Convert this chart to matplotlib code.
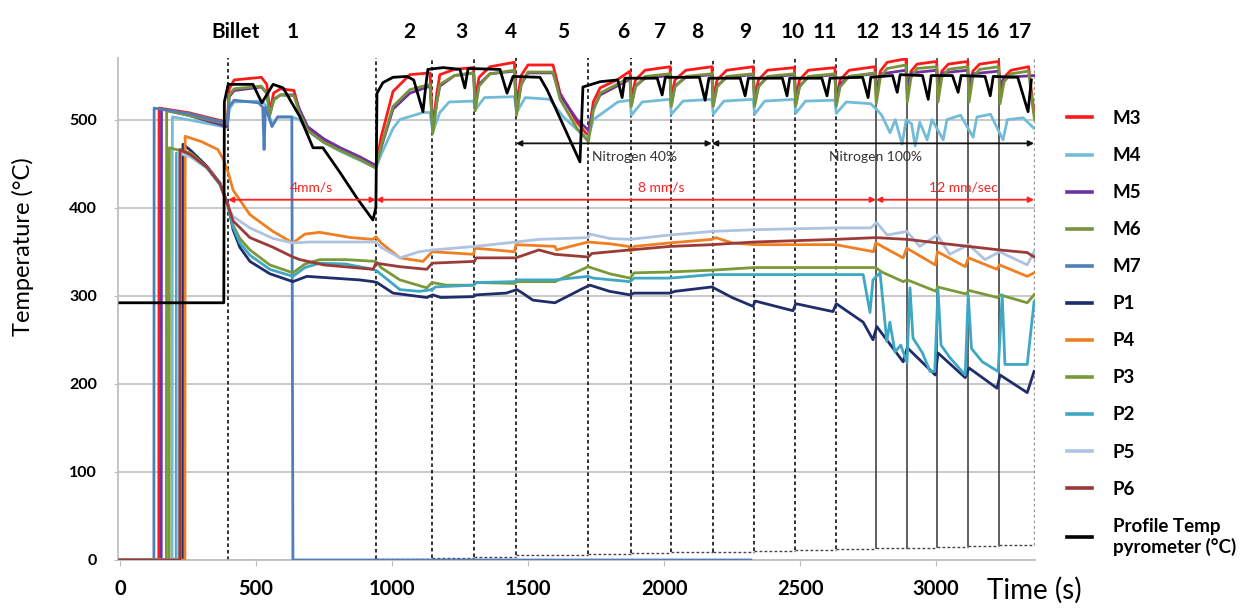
import matplotlib.pyplot as plt

plt.rcParams['font.family'] = ['Lato', 'DejaVu Sans']

# billet boundaries (s) and the little dashed "box" bottoms between them
billet_t = [398, 941, 1148, 1303, 1455, 1722, 1878, 2025, 2179, 2331, 2482, 2631, 2778, 2892, 3005, 3119, 3233, 3360]
box_bottom = [0, 1.1, 2.6, 3.8, 5.2, 6.8, 7.9, 8.7, 9.5, 10.2, 11.4, 12.5, 13.3, 14, 15.2, 15.9, 17]
billet_labels = ['Billet', '1', '2', '3', '4', '5', '6', '7', '8', '9', '10', '11', '12', '13', '14', '15', '16', '17']
label_t = [426, 636, 1062, 1257, 1437, 1629, 1849, 1985, 2121, 2298, 2471, 2592, 2750, 2875, 2978, 3081, 3191, 3309]

speed_t = [397, 941, 2779, 3360]
speed_labels = ['4mm/s', '8 mm/s', '12 mm/sec']
speed_label_t = [702, 1989, 3099]
n2_t = [1456, 2176, 3360]
n2_labels = ['Nitrogen 40%', 'Nitrogen 100%']
n2_label_t = [1893, 2779]

# thermocouples in the die (M) and profile (P)
t_m3 = [0, 143, 144, 250, 395, 402, 420, 520, 540, 551, 565, 590, 640, 660, 690, 750, 810, 880, 941, 960,
        1004, 1066, 1140, 1150, 1165, 1176, 1230, 1300, 1306, 1320, 1360, 1450, 1458, 1475, 1500, 1592, 1618, 1680, 1722, 1740,
        1765, 1827, 1875, 1880, 1895, 1930, 2022, 2027, 2040, 2080, 2176, 2181, 2195, 2230, 2328, 2333, 2347, 2380, 2479, 2484,
        2498, 2530, 2628, 2633, 2647, 2680, 2775, 2780, 2795, 2820, 2889, 2894, 2908, 2930, 3002, 3007, 3021, 3045, 3116, 3121,
        3135, 3160, 3230, 3235, 3250, 3275, 3340, 3355, 3362]
v_m3 = [0, 0, 513, 508, 497, 535, 545, 548, 540, 508, 530, 535, 533, 510, 489, 476, 466, 456, 447, 480,
        532, 551, 553, 490, 530, 551, 557, 559, 523, 548, 560, 565, 517, 550, 562, 562, 530, 497, 481, 520,
        536, 545, 555, 523, 545, 556, 560, 523, 545, 556, 560, 523, 545, 556, 560, 523, 545, 556, 559, 523,
        545, 556, 559, 523, 545, 556, 560, 528, 555, 565, 569, 530, 555, 563, 566, 530, 555, 563, 566, 530,
        555, 563, 566, 525, 548, 556, 560, 520, 505]

t_m6 = [0, 171, 172, 250, 395, 402, 420, 520, 540, 551, 565, 590, 640, 660, 690, 750, 810, 880, 941, 960,
        1004, 1066, 1140, 1150, 1165, 1176, 1230, 1300, 1306, 1320, 1360, 1450, 1458, 1475, 1500, 1592, 1618, 1680, 1722, 1740,
        1765, 1827, 1875, 1880, 1895, 1930, 2022, 2027, 2040, 2080, 2176, 2181, 2195, 2230, 2328, 2333, 2347, 2380, 2479, 2484,
        2498, 2530, 2628, 2633, 2647, 2680, 2775, 2780, 2795, 2820, 2889, 2894, 2908, 2930, 3002, 3007, 3021, 3045, 3116, 3121,
        3135, 3160, 3230, 3235, 3250, 3275, 3340, 3355, 3362]
v_m6 = [0, 0, 510, 505, 495, 528, 535, 538, 530, 505, 522, 528, 527, 508, 488, 474, 465, 455, 445, 470,
        515, 534, 540, 484, 520, 540, 550, 553, 510, 538, 552, 556, 505, 540, 554, 554, 523, 490, 475, 510,
        530, 540, 548, 515, 537, 549, 552, 515, 537, 549, 552, 515, 537, 549, 552, 515, 537, 549, 552, 515,
        537, 549, 552, 515, 537, 549, 553, 518, 548, 558, 562, 520, 548, 558, 560, 520, 548, 557, 560, 520,
        548, 557, 560, 518, 543, 552, 555, 515, 500]

t_m5 = [0, 152, 153, 250, 395, 402, 420, 520, 540, 552, 566, 590, 640, 660, 690, 750, 810, 880, 941, 960,
        1004, 1066, 1140, 1150, 1165, 1176, 1230, 1300, 1306, 1320, 1360, 1450, 1458, 1475, 1500, 1592, 1618, 1680, 1722, 1740,
        1765, 1827, 1875, 1880, 1895, 1930, 2022, 2027, 2040, 2080, 2176, 2181, 2195, 2230, 2328, 2333, 2347, 2380, 2479, 2484,
        2498, 2530, 2628, 2633, 2647, 2680, 2775, 2780, 2800, 2889, 2894, 2910, 3002, 3007, 3022, 3116, 3121, 3135, 3230, 3235,
        3250, 3362]
v_m5 = [0, 0, 512, 505, 492, 526, 533, 537, 530, 507, 523, 528, 528, 512, 492, 478, 468, 458, 448, 468,
        512, 530, 538, 488, 520, 538, 550, 553, 515, 540, 552, 555, 510, 540, 553, 553, 528, 500, 488, 512,
        528, 538, 546, 518, 538, 547, 550, 518, 538, 548, 551, 518, 538, 548, 551, 518, 538, 548, 551, 518,
        538, 548, 551, 520, 540, 549, 552, 535, 552, 556, 540, 553, 556, 540, 553, 556, 540, 552, 555, 538,
        548, 550]

t_m4 = [0, 192, 193, 250, 395, 402, 420, 520, 540, 559, 580, 632, 660, 690, 750, 810, 880, 941, 960, 1004,
        1029, 1114, 1140, 1150, 1176, 1210, 1300, 1306, 1340, 1450, 1458, 1490, 1580, 1630, 1700, 1722, 1740, 1790, 1830, 1875,
        1880, 1920, 2022, 2027, 2070, 2176, 2181, 2220, 2328, 2333, 2370, 2479, 2484, 2520, 2628, 2633, 2670, 2760, 2783, 2800,
        2831, 2850, 2875, 2890, 2910, 2923, 2940, 2967, 2985, 3026, 3040, 3090, 3136, 3150, 3200, 3246, 3262, 3320, 3360]
v_m4 = [0, 0, 503, 500, 491, 512, 520, 521, 515, 494, 503, 503, 500, 487, 474, 464, 454, 445, 460, 490,
        500, 508, 508, 486, 508, 520, 521, 511, 525, 526, 508, 525, 523, 503, 483, 480, 500, 511, 520, 522,
        505, 520, 523, 506, 521, 523, 506, 521, 523, 506, 521, 523, 507, 521, 522, 507, 520, 518, 511, 505,
        485, 500, 472, 500, 495, 470, 497, 477, 500, 477, 500, 505, 480, 503, 506, 477, 500, 502, 490]

t_m7 = [0, 125, 126, 250, 395, 402, 420, 510, 525, 530, 535, 545, 559, 580, 632, 636, 2319]
v_m7 = [0, 0, 513, 507, 496, 515, 522, 519, 514, 466, 514, 505, 492, 503, 503, 0, 0]

t_p1 = [0, 231, 232, 260, 320, 368, 398, 416, 441, 478, 551, 636, 687, 784, 880, 931, 945, 1004, 1128, 1150,
        1180, 1299, 1310, 1420, 1459, 1480, 1518, 1599, 1700, 1728, 1800, 1875, 1890, 2022, 2040, 2176, 2250, 2327, 2335, 2474,
        2484, 2621, 2633, 2732, 2768, 2782, 2879, 2894, 2997, 3007, 3107, 3121, 3224, 3235, 3335, 3360]
v_p1 = [0, 0, 472, 465, 447, 428, 403, 375, 355, 339, 325, 316, 322, 320, 318, 316, 315, 303, 298, 301,
        298, 299, 301, 303, 307, 303, 295, 292, 308, 312, 305, 301, 303, 303, 305, 310, 298, 288, 294, 283,
        291, 282, 291, 270, 250, 265, 225, 241, 210, 235, 207, 218, 195, 210, 190, 214]

t_p4 = [0, 239, 240, 300, 360, 380, 398, 416, 478, 563, 636, 680, 735, 850, 930, 941, 960, 1029, 1114, 1148,
        1300, 1305, 1450, 1456, 1599, 1605, 1721, 1800, 1870, 1878, 1890, 2022, 2176, 2190, 2250, 2331, 2482, 2631, 2770, 2778,
        2879, 2892, 2997, 3005, 3107, 3119, 3224, 3233, 3335, 3360]
v_p4 = [0, 0, 481, 475, 466, 455, 440, 420, 392, 373, 360, 370, 372, 366, 364, 367, 360, 343, 339, 350,
        347, 354, 350, 358, 356, 352, 361, 359, 356, 350, 356, 360, 364, 366, 360, 358, 358, 358, 350, 360,
        343, 354, 335, 350, 333, 343, 330, 335, 322, 326]

t_p3 = [0, 181, 182, 260, 320, 368, 398, 416, 441, 478, 551, 636, 680, 735, 830, 941, 960, 1029, 1128, 1148,
        1200, 1300, 1310, 1450, 1460, 1599, 1700, 1721, 1800, 1875, 1890, 2022, 2176, 2331, 2482, 2631, 2778, 2800, 2879, 2894,
        3000, 3005, 3110, 3121, 3225, 3235, 3335, 3360]
v_p3 = [0, 0, 468, 462, 446, 427, 401, 380, 365, 352, 335, 326, 336, 341, 341, 339, 332, 318, 309, 315,
        312, 312, 315, 314, 316, 316, 330, 333, 325, 320, 326, 327, 329, 332, 332, 332, 332, 327, 316, 318,
        305, 310, 302, 306, 298, 301, 292, 301]

t_p2 = [0, 207, 208, 260, 320, 368, 398, 416, 441, 478, 551, 636, 680, 735, 830, 931, 945, 1029, 1100, 1148,
        1160, 1300, 1310, 1450, 1460, 1599, 1721, 1740, 1875, 1890, 2022, 2176, 2331, 2482, 2631, 2732, 2757, 2768, 2794, 2819,
        2830, 2849, 2870, 2893, 2904, 2915, 2950, 2978, 2995, 3007, 3018, 3050, 3107, 3118, 3130, 3170, 3228, 3243, 3253, 3335,
        3360]
v_p2 = [0, 0, 462, 458, 445, 426, 402, 378, 360, 346, 330, 322, 332, 337, 336, 330, 328, 307, 305, 307,
        310, 312, 315, 316, 318, 318, 322, 320, 316, 320, 320, 324, 324, 324, 324, 324, 281, 318, 326, 248,
        270, 236, 244, 224, 309, 252, 235, 214, 214, 307, 244, 230, 210, 301, 240, 225, 214, 301, 222, 222,
        293]

t_p5 = [0, 214, 215, 260, 320, 368, 398, 416, 478, 563, 636, 700, 800, 941, 960, 1029, 1100, 1150, 1305, 1456,
        1540, 1721, 1728, 1800, 1875, 2022, 2176, 2331, 2482, 2631, 2760, 2782, 2820, 2893, 2940, 3005, 3050, 3119, 3180, 3233,
        3335, 3360]
v_p5 = [0, 0, 462, 458, 446, 427, 402, 390, 377, 365, 360, 361, 361, 361, 355, 343, 350, 352, 356, 361,
        364, 366, 370, 365, 364, 369, 373, 375, 376, 377, 377, 383, 369, 373, 356, 369, 347, 358, 341, 350,
        335, 350]

t_p6 = [0, 220, 221, 260, 320, 368, 398, 416, 478, 563, 636, 662, 750, 931, 941, 1029, 1128, 1148, 1303, 1310,
        1455, 1540, 1600, 1721, 1735, 1875, 2022, 2176, 2331, 2631, 2778, 2893, 3005, 3119, 3233, 3335, 3360]
v_p6 = [0, 0, 466, 460, 446, 427, 402, 385, 366, 355, 344, 341, 335, 330, 337, 333, 330, 337, 339, 343,
        343, 352, 347, 344, 348, 352, 356, 358, 361, 364, 366, 364, 360, 356, 352, 349, 344]

t_prof = [0, 382, 384, 398, 489, 522, 563, 600, 662, 710, 746, 809, 871, 930, 941, 945, 967, 1004, 1055, 1080,
          1114, 1125, 1132, 1188, 1250, 1268, 1280, 1397, 1423, 1445, 1544, 1570, 1691, 1702, 1765, 1830, 1846, 1856, 1975, 1993,
          2005, 2130, 2151, 2165, 2280, 2298, 2310, 2435, 2452, 2462, 2580, 2599, 2610, 2730, 2750, 2760, 2840, 2857, 2868, 2950,
          2971, 2982, 3060, 3081, 3092, 3180, 3199, 3210, 3300, 3338, 3350]
v_prof = [292, 292, 520, 540, 540, 519, 540, 536, 503, 468, 468, 440, 411, 386, 400, 530, 542, 548, 549, 545,
          509, 540, 557, 559, 557, 536, 558, 557, 530, 549, 548, 534, 452, 537, 543, 545, 525, 547, 547, 528,
          548, 548, 522, 547, 547, 527, 547, 547, 527, 547, 547, 527, 547, 548, 525, 548, 550, 531, 551, 550,
          523, 550, 550, 531, 550, 549, 527, 549, 548, 509, 545]

series = [
    ('M3', t_m3, v_m3, '#ff1a1a'),
    ('M4', t_m4, v_m4, '#72bcd8'),
    ('M5', t_m5, v_m5, '#7030a0'),
    ('M6', t_m6, v_m6, '#77933c'),
    ('M7', t_m7, v_m7, '#4f7fbb'),
    ('P1', t_p1, v_p1, '#1f2d6b'),
    ('P4', t_p4, v_p4, '#f07f22'),
    ('P3', t_p3, v_p3, '#7a9a3a'),
    ('P2', t_p2, v_p2, '#3ea7c3'),
    ('P5', t_p5, v_p5, '#aec3e2'),
    ('P6', t_p6, v_p6, '#9b3b38'),
    ('Profile Temp\npyrometer (°C)', t_prof, v_prof, '#000000'),
]

fig = plt.figure(figsize=(12.47, 6.13), dpi=100)
ax = fig.add_axes([0.0946, 0.0865, 0.7355, 0.819])
ax.set_xlim(-7, 3364)
ax.set_ylim(0, 570)

# billet boxes
for i, tb in enumerate(billet_t):
    lo = box_bottom[min(i, len(box_bottom) - 1)]
    if i == len(billet_t) - 1:
        ax.plot([tb, tb], [lo, 570], color='#999999', lw=1.0, ls=(0, (2, 2)), zorder=1)
    elif i >= 12:
        ax.plot([tb, tb], [lo, 570], color='#444444', lw=1.2, zorder=1)
    else:
        ax.plot([tb, tb], [lo, 570], color='#222222', lw=1.3, ls=(0, (2, 1.6)), zorder=1)
for i, lo in enumerate(box_bottom):
    ax.plot([billet_t[i], billet_t[i + 1]], [lo, lo], color='#444444', lw=1.0, ls=(0, (2, 1.6)), zorder=1)

for name, t, v, c in series:
    ax.plot(t, v, color=c, lw=2.0, label=name, zorder=3, solid_joinstyle='round')

for tl, lab in zip(label_t, billet_labels):
    ax.text(tl, 599, lab, ha='center', va='center', fontsize=15, fontweight='bold', clip_on=False)

# speed and nitrogen arrows
for i, lab in enumerate(speed_labels):
    ax.annotate('', xy=(speed_t[i + 1], 409), xytext=(speed_t[i], 409),
                arrowprops=dict(arrowstyle='<|-|>', color='#ff2020', lw=1.3, mutation_scale=8, shrinkA=0, shrinkB=0), zorder=4)
    ax.text(speed_label_t[i], 423, lab, color='#ff2020', ha='center', va='center', fontsize=10)
for i, lab in enumerate(n2_labels):
    ax.annotate('', xy=(n2_t[i + 1], 473), xytext=(n2_t[i], 473),
                arrowprops=dict(arrowstyle='<|-|>', color='#111111', lw=1.3, mutation_scale=8, shrinkA=0, shrinkB=0), zorder=4)
    ax.text(n2_label_t[i], 458, lab, color='#333333', ha='center', va='center', fontsize=10)

ax.set_xticks(range(0, 3001, 500))
ax.set_yticks(range(0, 501, 100))
ax.grid(axis='y', color='#c0c0c0', lw=1.2, zorder=0)
ax.set_axisbelow(True)
for s in ['top', 'right']:
    ax.spines[s].set_visible(False)
for s in ['left', 'bottom']:
    ax.spines[s].set_color('#bfbfbf')
    ax.spines[s].set_linewidth(1.3)
ax.tick_params(axis='x', colors='#bfbfbf', length=4, pad=10, labelsize=14.5, labelcolor='black')
ax.tick_params(axis='y', colors='#bfbfbf', length=3, pad=12, labelsize=11.5, labelcolor='black')
for lab in ax.get_xticklabels() + ax.get_yticklabels():
    lab.set_fontweight('bold')

fig.text(987 / 1247, 1 - 590 / 613, 'Time (s)', ha='left', va='center', fontsize=20)
fig.text(23 / 1247, 1 - 247 / 613, 'Temperature (°C)', rotation=90, ha='center', va='center', fontsize=17)

leg = ax.legend(loc='upper left', bbox_to_anchor=(1067 / 1247, 1 - 110 / 613), bbox_transform=fig.transFigure,
                frameon=False, borderaxespad=0, borderpad=0, handlelength=1.35, handletextpad=1.1,
                labelspacing=1.07, prop={'weight': 'bold', 'size': 13.5})
for line in leg.get_lines():
    line.set_linewidth(2.6)

fig.savefig('out.png', dpi=100)
